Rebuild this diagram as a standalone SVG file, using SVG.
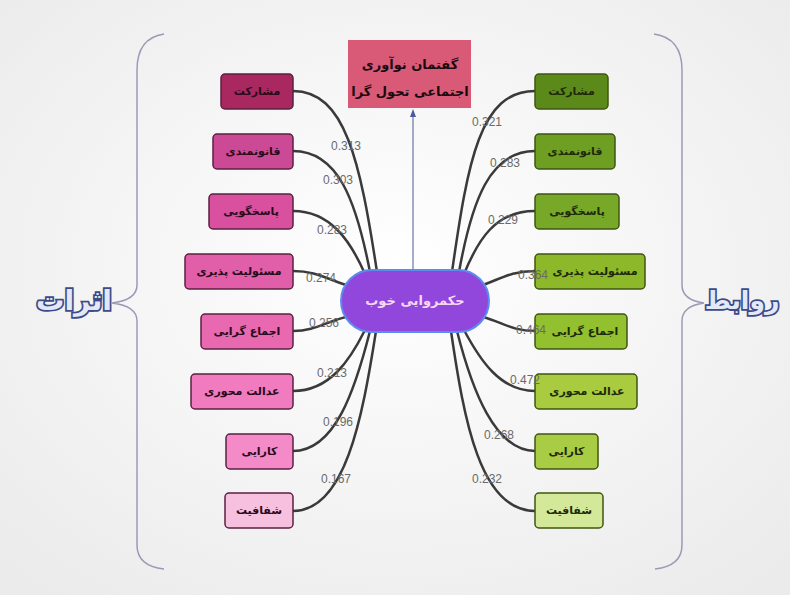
<svg xmlns="http://www.w3.org/2000/svg" width="790" height="595" viewBox="0 0 790 595">
<defs>
<radialGradient id="bg" cx="50%" cy="45%" r="70%">
<stop offset="0" stop-color="#ffffff"/>
<stop offset="1" stop-color="#ebebeb"/>
</radialGradient>
<marker id="ah" markerWidth="8" markerHeight="8" refX="4" refY="4" orient="auto" markerUnits="userSpaceOnUse">
<path d="M0,1 L8,4 L0,7 z" fill="#4a5a9a"/>
</marker>
<style>
.lbl{font-family:"DejaVu Sans",sans-serif;font-weight:bold;font-size:11px;text-anchor:middle;dominant-baseline:central}
.ln .t{fill:#2a0a1a}
.rn .t{fill:#1e2a08}
.ln rect{stroke:#5a2040;stroke-width:1.5}
.rn rect{stroke:#3f5512;stroke-width:1.5}
.con path{fill:none;stroke:#3a3a3a;stroke-width:2.5}
.w{font-family:"Liberation Sans",Arial,sans-serif;font-size:12px;fill:#6a6a6a}
.brace{fill:none;stroke:#9a9ab8;stroke-width:1.5}
.big{font-family:"DejaVu Sans",sans-serif;font-weight:bold;font-size:28px;fill:#e4e8f6;stroke:#3a4a8a;stroke-width:3.5;paint-order:stroke;text-anchor:middle;dominant-baseline:central}
.tt{font-family:"DejaVu Sans",sans-serif;font-weight:bold;font-size:13px;fill:#1a0a10;text-anchor:middle;dominant-baseline:central}
</style>
</defs>
<rect width="790" height="595" fill="url(#bg)"/>

<g id="braces">
<path class="brace" d="M164,34 Q137,38 137,70 L137,285 Q137,300 112,303 Q137,306 137,321 L137,545 Q137,566 164,569"/>
<path class="brace" d="M654,34 Q682,38 682,70 L682,285 Q682,300 704,303 Q682,306 682,321 L682,545 Q682,566 655,569"/>
</g>
<text id="athar" class="big" x="74" y="300" textLength="76" lengthAdjust="spacingAndGlyphs">اثرات</text>
<text id="ravabet" class="big" x="742" y="300" style="font-size:25px">روابط</text>

<g id="connectors" class="con">
<path d="M293,91 C345,91 360,160 377,272"/>
<path d="M293,151 C338,151 356,200 370,272"/>
<path d="M293,211 C330,211 350,240 365,274"/>
<path d="M293,271 C315,271 325,278 346,285"/>
<path d="M293,331 C315,331 325,322 346,317"/>
<path d="M293,391 C330,391 350,360 365,330"/>
<path d="M293,451 C335,451 355,390 370,331"/>
<path d="M293,511 C345,511 362,420 376,331"/>
<path d="M535,91 C480,91 468,160 452,272"/>
<path d="M535,151 C490,151 472,200 459,272"/>
<path d="M535,211 C495,211 478,240 464,274"/>
<path d="M535,271 C512,271 502,278 483,285"/>
<path d="M535,331 C512,331 502,322 483,317"/>
<path d="M535,391 C500,391 480,360 464,330"/>
<path d="M535,451 C495,451 472,390 457,331"/>
<path d="M535,511 C480,511 464,420 451,331"/>
<line x1="413" y1="270" x2="413" y2="113" stroke="#4a5a9a" stroke-width="1" marker-end="url(#ah)"/>
</g>

<g id="top">
<rect x="348" y="40" width="123" height="68" fill="#d85a77"/>
<text class="tt" x="410" y="64">گفتمان نوآوری</text>
<text class="tt" x="410" y="91">اجتماعی تحول گرا</text>
</g>

<g id="center">
<rect x="341" y="270" width="148" height="62" rx="31" fill="#9147dc" stroke="#5b8def" stroke-width="2"/>
<text x="415" y="300" style="font-family:'DejaVu Sans',sans-serif;font-weight:bold;font-size:13px;fill:#f6d8f2;text-anchor:middle;dominant-baseline:central">حکمروایی خوب</text>
</g>

<g id="l1" class="ln"><rect x="221" y="74" width="72" height="35" rx="4" fill="#a8285f"/><text class="lbl t" x="257" y="91.5">مشارکت</text></g>
<g id="l2" class="ln"><rect x="213" y="134" width="80" height="35" rx="4" fill="#cc4a95"/><text class="lbl t" x="253" y="151.5">قانونمندی</text></g>
<g id="l3" class="ln"><rect x="209" y="194" width="84" height="35" rx="4" fill="#d8509e"/><text class="lbl t" x="251" y="211.5">پاسخگویی</text></g>
<g id="l4" class="ln"><rect x="185" y="254" width="108" height="35" rx="4" fill="#e05fa8"/><text class="lbl t" x="239" y="271.5">مسئولیت پذیری</text></g>
<g id="l5" class="ln"><rect x="201" y="314" width="92" height="35" rx="4" fill="#e869b0"/><text class="lbl t" x="247" y="331.5">اجماع گرایی</text></g>
<g id="l6" class="ln"><rect x="191" y="374" width="102" height="35" rx="4" fill="#f07bbf"/><text class="lbl t" x="242" y="391.5">عدالت محوری</text></g>
<g id="l7" class="ln"><rect x="226" y="434" width="67" height="35" rx="4" fill="#f58ac8"/><text class="lbl t" x="259.5" y="451.5">کارایی</text></g>
<g id="l8" class="ln"><rect x="225" y="493" width="68" height="35" rx="4" fill="#f6c0de"/><text class="lbl t" x="259" y="510.5">شفافیت</text></g>

<g id="r1" class="rn"><rect x="535" y="74" width="73" height="35" rx="4" fill="#5c8a1a"/><text class="lbl t" x="571.5" y="91.5">مشارکت</text></g>
<g id="r2" class="rn"><rect x="535" y="134" width="80" height="35" rx="4" fill="#6e9e22"/><text class="lbl t" x="575" y="151.5">قانونمندی</text></g>
<g id="r3" class="rn"><rect x="535" y="194" width="84" height="35" rx="4" fill="#78a828"/><text class="lbl t" x="577" y="211.5">پاسخگویی</text></g>
<g id="r4" class="rn"><rect x="535" y="254" width="110" height="35" rx="4" fill="#8db829"/><text class="lbl t" x="595" y="271.5">مسئولیت پذیری</text></g>
<g id="r5" class="rn"><rect x="535" y="314" width="92" height="35" rx="4" fill="#93c02e"/><text class="lbl t" x="585" y="331.5">اجماع گرایی</text></g>
<g id="r6" class="rn"><rect x="535" y="374" width="102" height="35" rx="4" fill="#a8cb3f"/><text class="lbl t" x="587" y="391.5">عدالت محوری</text></g>
<g id="r7" class="rn"><rect x="535" y="434" width="63" height="35" rx="4" fill="#a8cc44"/><text class="lbl t" x="566.5" y="451.5">کارایی</text></g>
<g id="r8" class="rn"><rect x="535" y="493" width="68" height="35" rx="4" fill="#d4e89a"/><text class="lbl t" x="569" y="510.5">شفافیت</text></g>

<g id="weights">
<text class="w" x="331" y="150">0.313</text>
<text class="w" x="323" y="184">0.303</text>
<text class="w" x="317" y="234">0.283</text>
<text class="w" x="306" y="282">0.274</text>
<text class="w" x="309" y="327">0.256</text>
<text class="w" x="317" y="377">0.213</text>
<text class="w" x="323" y="426">0.196</text>
<text class="w" x="321" y="483">0.167</text>
<text class="w" x="472" y="126">0.321</text>
<text class="w" x="490" y="167">0.283</text>
<text class="w" x="488" y="224">0.229</text>
<text class="w" x="518" y="279">0.364</text>
<text class="w" x="516" y="334">0.464</text>
<text class="w" x="510" y="384">0.472</text>
<text class="w" x="484" y="439">0.268</text>
<text class="w" x="472" y="483">0.232</text>
</g>
</svg>
